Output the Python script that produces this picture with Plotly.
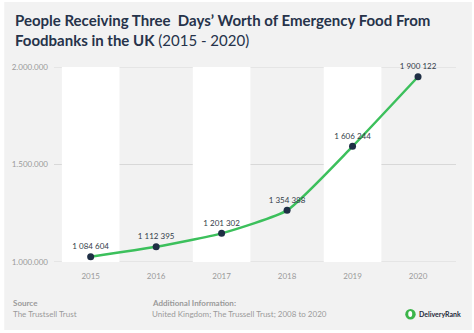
import plotly.graph_objects as go

years = ["2015", "2016", "2017", "2018", "2019", "2020"]
# plotted positions
values = [1027000, 1078000, 1147000, 1265000, 1593000, 1950000]
# data labels as printed on the chart
labels = ["1 084 604", "1 112 395", "1 201 302", "1 354 388", "1 606 244", "1 900 122"]
y_ticks = [1000000, 1500000, 2000000]
y_tick_text = ["1.000.000", "1.500.000", "2.000.000"]

W, H = 474, 333
L, R, T, B = 52, 18, 67, 71
pw, ph = W - L - R, H - T - B

def px(x):
    return (x - L) / pw

def py(y):
    return (H - B - y) / ph

BG = "#f2f2f2"
DARK = "#26334a"
GRAY = "#9a9a9a"

fig = go.Figure()
fig.add_trace(go.Scatter(
    x=list(range(len(years))), y=values, mode="lines+markers+text",
    text=labels, textposition="top center",
    textfont=dict(family="Lato", size=8, color="#333c4a"),
    line=dict(color="#3cc05c", width=2.5, shape="spline", smoothing=0.5),
    marker=dict(color="#1f2f45", size=7),
    cliponaxis=False, hoverinfo="skip",
))

shapes = []
# outer card
shapes.append(dict(type="rect", xref="paper", yref="paper",
                   x0=px(2), x1=px(472), y0=py(330), y1=py(2),
                   fillcolor=BG, line=dict(width=0), layer="below"))
# alternating bands
for i in range(0, len(years), 2):
    shapes.append(dict(type="rect", xref="x", yref="y", x0=i - 0.44, x1=i + 0.44,
                       y0=y_ticks[0], y1=y_ticks[-1], fillcolor="white",
                       line=dict(width=0), layer="below"))
# grid lines
for v in y_ticks:
    shapes.append(dict(type="line", xref="paper", yref="y", x0=0, x1=1, y0=v, y1=v,
                       line=dict(color="#d8d8d8", width=1), layer="below"))
# logo circle
shapes.append(dict(type="circle", xref="paper", yref="paper",
                   x0=px(405), x1=px(415.5), y0=py(319.5), y1=py(309),
                   fillcolor="#3cb54a", line=dict(width=0)))
shapes.append(dict(type="circle", xref="paper", yref="paper",
                   x0=px(408), x1=px(412), y0=py(317), y1=py(311),
                   fillcolor="white", line=dict(width=0)))

annotations = [
    dict(text="<b>People Receiving Three\u00a0 Days’ Worth of Emergency Food From</b>",
         x=px(11), y=py(20), xref="paper", yref="paper", xanchor="left", yanchor="middle",
         showarrow=False, font=dict(family="Lato", size=15, color=DARK)),
    dict(text="<b>Foodbanks in the UK</b> (2015 - 2020)",
         x=px(11), y=py(40), xref="paper", yref="paper", xanchor="left", yanchor="middle",
         showarrow=False, font=dict(family="Lato", size=15, color=DARK)),
    dict(text="<b>Source</b>", x=px(9), y=py(303), xref="paper", yref="paper",
         xanchor="left", yanchor="middle", showarrow=False,
         font=dict(family="Lato", size=8, color=GRAY)),
    dict(text="The Trustsell Trust", x=px(9), y=py(314), xref="paper", yref="paper",
         xanchor="left", yanchor="middle", showarrow=False,
         font=dict(family="Lato", size=8, color=GRAY)),
    dict(text="<b>Additional Information:</b>", x=px(148), y=py(303), xref="paper", yref="paper",
         xanchor="left", yanchor="middle", showarrow=False,
         font=dict(family="Lato", size=8, color=GRAY)),
    dict(text="United Kingdom; The Trussell Trust; 2008 to 2020", x=px(148), y=py(314),
         xref="paper", yref="paper", xanchor="left", yanchor="middle", showarrow=False,
         font=dict(family="Lato", size=8, color=GRAY)),
    dict(text="<b>DeliveryRank</b>", x=px(417), y=py(314), xref="paper", yref="paper",
         xanchor="left", yanchor="middle", showarrow=False,
         font=dict(family="Lato", size=7, color="#1f2a3a")),
]

fig.update_layout(
    width=W, height=H, margin=dict(l=L, r=R, t=T, b=B),
    paper_bgcolor="white", plot_bgcolor=BG,
    showlegend=False, shapes=shapes, annotations=annotations,
    font=dict(family="Lato"),
    xaxis=dict(range=[-0.56, 5.58], tickmode="array", tickvals=list(range(len(years))),
               ticktext=years, showgrid=False, zeroline=False, showline=False,
               ticks="", ticklabelstandoff=8,
               tickfont=dict(family="Lato", size=8, color=GRAY), fixedrange=True),
    yaxis=dict(range=[y_ticks[0], y_ticks[-1]], tickmode="array", tickvals=y_ticks,
               ticktext=y_tick_text, showgrid=False,
               zeroline=False, showline=False, ticks="", ticklabelstandoff=5,
               tickfont=dict(family="Lato", size=8, color=GRAY), fixedrange=True),
)

fig.write_html("out.html")
